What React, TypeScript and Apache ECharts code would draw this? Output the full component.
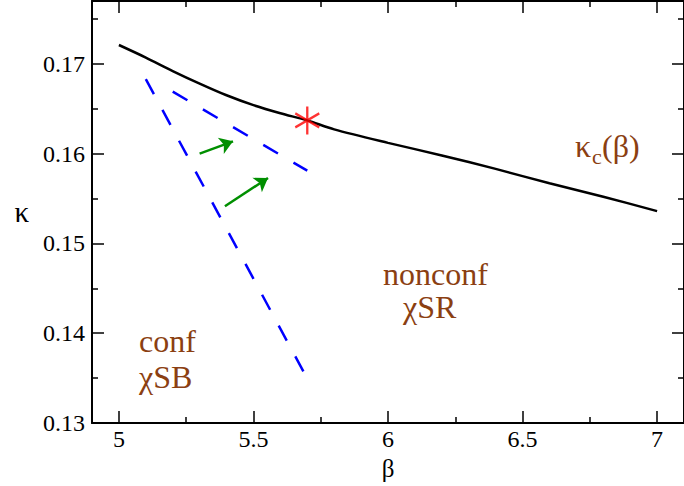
import React, { useEffect, useRef } from "react";
import * as echarts from "echarts";

// critical line kappa_c(beta)
const curveBeta = [5.0, 5.1, 5.2, 5.3, 5.4, 5.5, 5.6, 5.7, 5.8, 6.0, 6.2, 6.4, 6.6, 6.8, 7.0];
const curveKappa = [0.1721, 0.1707, 0.1692, 0.1678, 0.1665, 0.1654, 0.1645, 0.1637, 0.1627, 0.1612, 0.1598, 0.1583, 0.1567, 0.1552, 0.1536];

// dashed blue lines
const dash1Beta = [5.1, 5.69];
const dash1Kappa = [0.1683, 0.1355];
const dash2Beta = [5.2, 5.7];
const dash2Kappa = [0.1669, 0.1581];

// green arrows
const arrowStartBeta = [5.3, 5.394];
const arrowStartKappa = [0.16, 0.15414];
const arrowEndBeta = [5.424, 5.554];
const arrowEndKappa = [0.16137, 0.15729];

// red star (endpoint)
const starBeta = [5.7];
const starKappa = [0.1637];

// ticks
const xMajor = [5, 5.5, 6, 6.5, 7];
const xMinor = [5.25, 5.75, 6.25, 6.75];
const yMajor = [0.13, 0.14, 0.15, 0.16, 0.17];
const yMinor = [0.135, 0.145, 0.155, 0.165, 0.175];

const FONT = "'Liberation Serif', serif";
const BROWN = "#8b3f12";

export default function App() {
  const ref = useRef<HTMLDivElement>(null);
  useEffect(() => {
    if (!ref.current) return;
    const chart = echarts.init(ref.current, undefined, { renderer: "svg" });

    const mkX = (position: string, ticks: number[], len: number, showLine: boolean, showLabel: boolean, name?: string) => ({
      type: "value",
      position,
      min: 4.9,
      max: 7.1,
      name: name || "",
      nameLocation: "middle",
      nameGap: 30,
      nameTextStyle: { fontFamily: FONT, fontSize: 25, color: "#000" },
      axisLine: { show: showLine, onZero: false, lineStyle: { color: "#000", width: 2 } },
      axisTick: { show: true, inside: true, length: len, customValues: ticks, lineStyle: { color: "#000", width: 1.5 } },
      axisLabel: {
        show: showLabel,
        customValues: ticks,
        margin: 4,
        fontFamily: FONT,
        fontSize: 24,
        color: "#000",
        formatter: (v: number) => String(v),
      },
      splitLine: { show: false },
    });
    const mkY = (position: string, ticks: number[], len: number, showLine: boolean, showLabel: boolean, name?: string) => ({
      type: "value",
      position,
      min: 0.13,
      max: 0.177,
      name: name || "",
      nameLocation: "middle",
      nameRotate: 0,
      nameGap: 63,
      nameTextStyle: { fontFamily: FONT, fontSize: 29, color: "#000" },
      axisLine: { show: showLine, onZero: false, lineStyle: { color: "#000", width: 2 } },
      axisTick: { show: true, inside: true, length: len, customValues: ticks, lineStyle: { color: "#000", width: 1.5 } },
      axisLabel: {
        show: showLabel,
        customValues: ticks,
        margin: 7,
        fontFamily: FONT,
        fontSize: 24,
        color: "#000",
        formatter: (v: number) => String(v),
      },
      splitLine: { show: false },
    });

    const curve = curveBeta.map((b, i) => [b, curveKappa[i]]);
    const dash1 = dash1Beta.map((b, i) => [b, dash1Kappa[i]]);
    const dash2 = dash2Beta.map((b, i) => [b, dash2Kappa[i]]);
    const arrows = arrowStartBeta.map((b, i) => ({
      coords: [
        [b, arrowStartKappa[i]],
        [arrowEndBeta[i], arrowEndKappa[i]],
      ],
    }));
    const star = starBeta.map((b, i) => [b, starKappa[i]]);

    const txt = (text: string, x: number, y: number, size: number) => ({
      type: "text",
      x,
      y,
      z: 100,
      style: {
        text,
        font: `${size}px ${FONT}`,
        fill: BROWN,
        align: "left",
        verticalAlign: "middle",
      },
    });

    chart.setOption({
      animation: false,
      backgroundColor: "#fff",
      grid: { left: 92, right: -12, top: 1, bottom: 63 },
      xAxis: [
        mkX("bottom", xMajor, 12, true, true, "β"),
        mkX("bottom", xMinor, 6, false, false),
        mkX("top", xMajor, 12, true, false),
        mkX("top", xMinor, 6, false, false),
      ],
      yAxis: [
        mkY("left", yMajor, 12, true, true, "κ"),
        mkY("left", yMinor, 6, false, false),
        mkY("right", yMajor, 12, true, false),
        mkY("right", yMinor, 6, false, false),
      ],
      series: [
        {
          type: "line",
          data: curve,
          smooth: 0.3,
          symbol: "none",
          lineStyle: { color: "#000", width: 2.5 },
        },
        {
          type: "line",
          data: dash1,
          symbol: "none",
          lineStyle: { color: "#0000ff", width: 2.5, type: [17, 18] },
        },
        {
          type: "line",
          data: dash2,
          symbol: "none",
          lineStyle: { color: "#0000ff", width: 2.5, type: [17, 18] },
        },
        {
          type: "lines",
          coordinateSystem: "cartesian2d",
          data: arrows,
          symbol: ["none", "arrow"],
          symbolSize: [10, 13],
          lineStyle: { color: "#008f00", width: 2.5, opacity: 1 },
        },
        {
          type: "scatter",
          data: star,
          symbol: "path://M0,-14 L0,14 M-12.12,-7 L12.12,7 M-12.12,7 L12.12,-7",
          symbolSize: [24, 28],
          itemStyle: { color: "rgba(0,0,0,0)", borderColor: "#ff0000", borderWidth: 2.5 },
          z: 10,
        },
      ],
      graphic: [
        txt("κ", 575, 146, 32),
        txt("c", 592, 156, 22),
        txt("(β)", 602, 146, 32),
        txt("nonconf", 383, 274, 32),
        txt("χSR", 403, 307, 32),
        txt("conf", 139, 341, 32),
        txt("χSB", 139, 377, 32),
      ],
    });
    return () => chart.dispose();
  }, []);
  return <div ref={ref} style={{ position: "fixed", left: 0, top: 0, width: 684, height: 486 }} />;
}
